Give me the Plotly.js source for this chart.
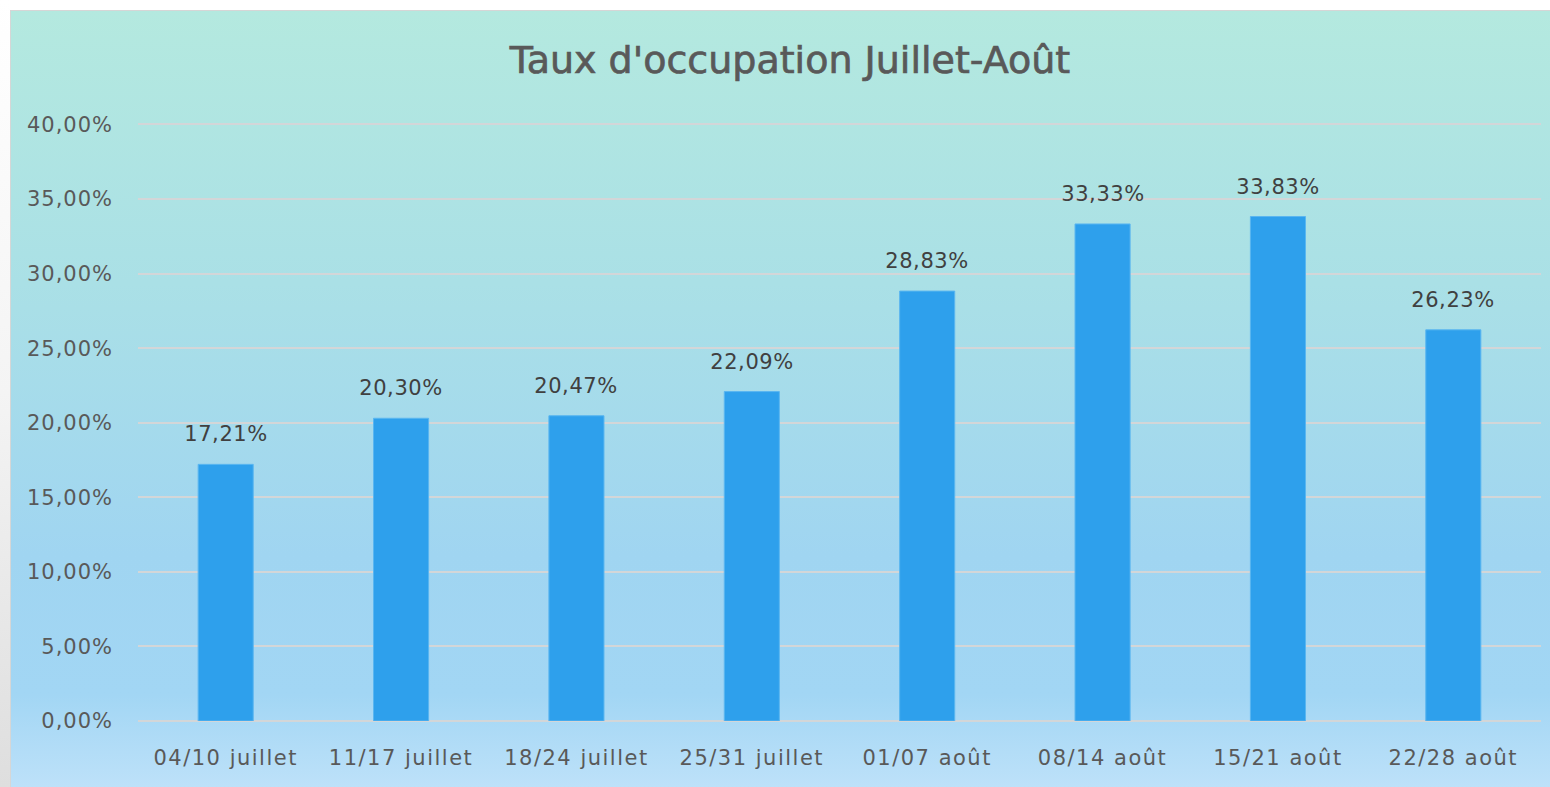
<!DOCTYPE html>
<html>
<head>
<meta charset="utf-8">
<script src="https://cdn.plot.ly/plotly-3.0.1.min.js"></script>
<style>
  html, body { margin:0; padding:0; width:1550px; height:787px; overflow:hidden; background:#ffffff; }
  #leftstrip { position:absolute; left:0; top:0; width:10px; height:787px;
    background: linear-gradient(to bottom, #ffffff 0%, #f4f4f4 50%, #dedede 100%); }
  #bg { position:absolute; left:10px; top:10px; width:1540px; height:777px;
    border-left:1px solid #d6d6d6; border-top:1px solid #d6d6d6; box-sizing:border-box;
    background: linear-gradient(to bottom, #b4e9df 0%, #aae0e6 35%, #a0d5f1 70%, #a2d6f4 88%, #bde1f9 100%); }
  #chart { position:absolute; left:0; top:0; width:1550px; height:787px; }
  #chart .xtick text { letter-spacing: 1.5px; }
  #chart .ytick text { letter-spacing: 1px; }
  #chart .annotation-text { letter-spacing: 0.6px; }
  #chart .gtitle { stroke: #595959; stroke-width: 0.7px; }
</style>
</head>
<body>
<div id="leftstrip"></div>
<div id="bg"></div>
<div id="chart"></div>
<script>
const categories = ["04/10 juillet", "11/17 juillet", "18/24 juillet", "25/31 juillet",
                    "01/07 août", "08/14 août", "15/21 août", "22/28 août"];
const occupancy = [0.1721, 0.2030, 0.2047, 0.2209, 0.2883, 0.3333, 0.3383, 0.2623];
const yTicks = [0, 0.05, 0.10, 0.15, 0.20, 0.25, 0.30, 0.35, 0.40];

const font = "DejaVu Sans, sans-serif";

const trace = {
  type: "bar",
  x: categories,
  y: occupancy,
  marker: { color: "#2ea0ec", line: { color: "#5ab6f0", width: 1 } },
  hoverinfo: "skip"
};

const fmt = v => (v * 100).toFixed(2).replace(".", ",") + "%";
const labels = categories.map((c, i) => ({
  x: c, y: occupancy[i], xref: "x", yref: "y",
  text: fmt(occupancy[i]),
  showarrow: false, yanchor: "middle", yshift: 30,
  font: { family: font, size: 21, color: "#404040" }
}));

const layout = {
  width: 1550, height: 787,
  paper_bgcolor: "rgba(0,0,0,0)",
  plot_bgcolor: "rgba(0,0,0,0)",
  separators: ",.",
  margin: { l: 138, r: 9, t: 122.5, b: 66 },
  bargap: 0.686,
  showlegend: false,
  annotations: labels,
  title: {
    text: "Taux d'occupation Juillet-Août",
    font: { family: font, size: 38, color: "#595959" },
    x: 790 / 1550, xref: "container", xanchor: "center",
    y: 1 - 60/787, yref: "container", yanchor: "middle"
  },
  xaxis: {
    type: "category",
    tickfont: { family: font, size: 21, color: "#595959" },
    ticks: "", showgrid: false, showline: false, zeroline: false,
    ticklabelstandoff: 22
  },
  yaxis: {
    range: [0, 0.401],
    tickvals: yTicks,
    tickformat: ".2%",
    tickfont: { family: font, size: 21, color: "#595959" },
    showgrid: true, gridcolor: "#d3d6d8", gridwidth: 2,
    zeroline: true, zerolinecolor: "#d3d6d8", zerolinewidth: 2,
    showline: false, ticks: "",
    ticklabelstandoff: 24
  }
};

Plotly.newPlot("chart", [trace], layout, { displayModeBar: false, staticPlot: true });
</script>
</body>
</html>
